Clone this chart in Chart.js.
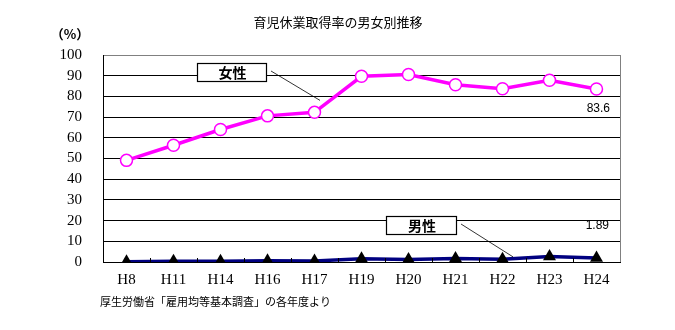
<!DOCTYPE html>
<html>
<head>
<meta charset="utf-8">
<script src="https://cdn.jsdelivr.net/npm/chart.js@4"></script>
<style>
  html, body { margin: 0; padding: 0; background: #fff; }
  #wrap { width: 675px; height: 330px; position: relative; }
</style>
</head>
<body>
<div id="wrap"><canvas id="chart" width="675" height="330"></canvas></div>
<script>
const years = ['H8', 'H11', 'H14', 'H16', 'H17', 'H19', 'H20', 'H21', 'H22', 'H23', 'H24']
const female = [49.1, 56.4, 64.0, 70.6, 72.3, 89.7, 90.6, 85.6, 83.7, 87.8, 83.6]
const male = [0.12, 0.42, 0.33, 0.56, 0.50, 1.56, 1.23, 1.72, 1.38, 2.63, 1.89]
const yTicks = [0, 10, 20, 30, 40, 50, 60, 70, 80, 90, 100]

const JP = '"Noto Sans CJK JP", "Noto Sans", sans-serif'
const SERIF = '"Liberation Serif", "DejaVu Serif", serif'

// labels, boxes and leader lines drawn over the plot
let overlay = {
  id: 'overlay',
  afterDraw (chart) {
    let ctx = chart.ctx
    let x = chart.scales.x
    let y = chart.scales.y
    let area = chart.chartArea

    ctx.save()

    // grey right border
    ctx.strokeStyle = '#808080'
    ctx.lineWidth = 1
    ctx.beginPath()
    ctx.moveTo(area.right + 0.5, area.top)
    ctx.lineTo(area.right + 0.5, area.bottom)
    ctx.stroke()

    // inner tick marks between categories
    ctx.strokeStyle = '#000'
    ctx.beginPath()
    for (let i = 1; i < years.length; i++) {
      let px = Math.round((x.getPixelForValue(i - 1) + x.getPixelForValue(i)) / 2) + 0.5
      ctx.moveTo(px, area.bottom)
      ctx.lineTo(px, area.bottom - 4)
    }
    ctx.stroke()

    // title, unit and source
    ctx.fillStyle = '#000'
    ctx.textBaseline = 'middle'
    ctx.textAlign = 'center'
    ctx.font = '13px ' + JP
    ctx.fillText('育児休業取得率の男女別推移', 338, 22)
    ctx.font = 'bold 13px ' + JP
    ctx.fillText('（%）', 70, 34)
    ctx.textAlign = 'left'
    ctx.font = '11px ' + JP
    ctx.fillText('厚生労働省「雇用均等基本調査」の各年度より', 100, 302)

    // end values
    let last = years.length - 1
    ctx.textAlign = 'right'
    ctx.font = '12px "Liberation Sans", Arial, sans-serif'
    ctx.fillText(female[last].toFixed(1), 610, y.getPixelForValue(female[last]) + 20)
    ctx.fillText(male[last].toFixed(2), 609, y.getPixelForValue(male[last]) - 32)

    let callout = (text, bx, by, bw, bh, tx, ty) => {
      ctx.strokeStyle = '#000'
      ctx.lineWidth = 0.8
      ctx.beginPath()
      ctx.moveTo(bx + bw + 5, by + bh / 2 - 1)
      ctx.lineTo(tx, ty)
      ctx.stroke()
      ctx.fillStyle = '#fff'
      ctx.fillRect(bx, by, bw, bh)
      ctx.lineWidth = 1.2
      ctx.strokeRect(bx + 0.5, by + 0.5, bw, bh)
      ctx.fillStyle = '#000'
      ctx.textAlign = 'center'
      ctx.font = 'bold 14px ' + JP
      ctx.fillText(text, bx + bw / 2 + 1, by + bh / 2 + 1)
    }

    let fx = (x.getPixelForValue(4) + x.getPixelForValue(5)) / 2 - 18
    callout('女性', 197, 63, 69, 18, fx, y.getPixelForValue(80) + 4)
    let mx = (x.getPixelForValue(8) + x.getPixelForValue(9)) / 2 - 13
    callout('男性', 386, 216, 70, 18, mx, y.getPixelForValue(2) - 1)

    ctx.restore()
  }
}

new Chart(document.getElementById('chart'), {
  type: 'line',
  data: {
    labels: years,
    datasets: [
      {
        label: '女性',
        data: female,
        borderColor: '#ff00ff',
        borderWidth: 3.5,
        pointStyle: 'circle',
        pointRadius: 6,
        pointBorderWidth: 1.5,
        pointBackgroundColor: '#fff',
        pointBorderColor: '#ff00ff',
        tension: 0
      },
      {
        label: '男性',
        data: male,
        borderColor: '#000080',
        borderWidth: 3.5,
        pointStyle: 'triangle',
        pointRadius: 7.5,
        pointBorderWidth: 0,
        pointBackgroundColor: '#000',
        pointBorderColor: '#000',
        tension: 0
      }
    ]
  },
  options: {
    responsive: false,
    animation: false,
    layout: { padding: { top: 55, right: 55, bottom: 26, left: 0 } },
    plugins: {
      legend: { display: false },
      tooltip: { enabled: false },
      title: { display: false }
    },
    scales: {
      x: {
        offset: true,
        grid: { display: false, drawTicks: false },
        border: { color: '#000', width: 1 },
        ticks: {
          color: '#000',
          padding: 9,
          autoSkip: false,
          maxRotation: 0,
          font: { family: SERIF, size: 15 }
        },
        afterFit (axis) { axis.height = 42 }
      },
      y: {
        min: 0,
        max: 100,
        afterBuildTicks (axis) { axis.ticks = yTicks.map(v => ({ value: v })) },
        grid: {
          drawTicks: false,
          color: ctx => ctx.tick && ctx.tick.value === 100 ? '#808080' : '#000',
          lineWidth: 1
        },
        border: { color: '#000', width: 1 },
        ticks: {
          color: '#000',
          padding: 21,
          autoSkip: false,
          font: { family: SERIF, size: 15 }
        },
        afterFit (axis) { axis.width = 103 }
      }
    }
  },
  plugins: [overlay]
})
</script>
</body>
</html>
